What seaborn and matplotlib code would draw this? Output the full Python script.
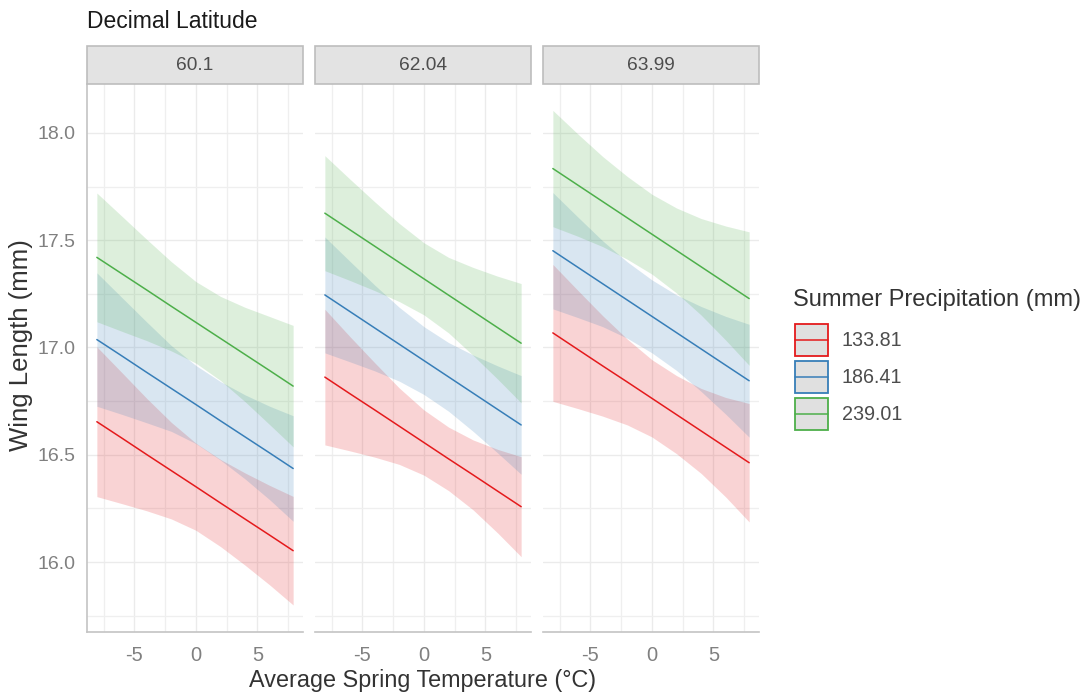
import numpy as np
import pandas as pd
import matplotlib
matplotlib.use("Agg")
import matplotlib.pyplot as plt
import seaborn as sns
from matplotlib.patches import Rectangle
from matplotlib.lines import Line2D
from matplotlib.legend_handler import HandlerBase
from matplotlib.ticker import MultipleLocator, FormatStrFormatter

# ---------------- data ----------------
latitudes = ["60.1", "62.04", "63.99"]
precip_levels = ["133.81", "186.41", "239.01"]
temperature = [-8.05, -6.0, -4.0, -2.0, 0.0, 2.0, 4.0, 6.0, 7.9]

# rows: precipitation 133.81, 186.41, 239.01
fit_60_1 = [
    [16.654, 16.577, 16.501, 16.426, 16.351, 16.275, 16.200, 16.125, 16.053],
    [17.037, 16.960, 16.884, 16.809, 16.734, 16.658, 16.583, 16.508, 16.436],
    [17.420, 17.343, 17.268, 17.192, 17.117, 17.042, 16.967, 16.892, 16.820],
]
low_60_1 = [
    [16.305, 16.272, 16.239, 16.201, 16.148, 16.072, 15.985, 15.893, 15.800],
    [16.726, 16.688, 16.649, 16.609, 16.552, 16.475, 16.387, 16.290, 16.190],
    [17.120, 17.075, 17.032, 16.984, 16.927, 16.846, 16.747, 16.640, 16.537],
]
high_60_1 = [
    [17.003, 16.882, 16.763, 16.651, 16.554, 16.478, 16.415, 16.357, 16.306],
    [17.348, 17.232, 17.119, 17.009, 16.916, 16.841, 16.779, 16.726, 16.682],
    [17.720, 17.611, 17.504, 17.400, 17.307, 17.238, 17.187, 17.144, 17.103],
]

fit_62_04 = [
    [16.862, 16.784, 16.709, 16.633, 16.557, 16.481, 16.406, 16.330, 16.258],
    [17.245, 17.167, 17.091, 17.015, 16.939, 16.863, 16.787, 16.711, 16.639],
    [17.626, 17.548, 17.472, 17.396, 17.320, 17.244, 17.168, 17.092, 17.020],
]
low_62_04 = [
    [16.546, 16.518, 16.489, 16.455, 16.405, 16.333, 16.243, 16.135, 16.025],
    [16.975, 16.933, 16.891, 16.843, 16.781, 16.703, 16.609, 16.508, 16.409],
    [17.358, 17.312, 17.265, 17.214, 17.152, 17.068, 16.963, 16.852, 16.742],
]
high_62_04 = [
    [17.178, 17.050, 16.929, 16.811, 16.709, 16.629, 16.569, 16.525, 16.491],
    [17.515, 17.401, 17.291, 17.187, 17.097, 17.023, 16.965, 16.914, 16.869],
    [17.894, 17.784, 17.679, 17.578, 17.488, 17.420, 17.373, 17.332, 17.298],
]

fit_63_99 = [
    [17.068, 16.990, 16.914, 16.839, 16.763, 16.687, 16.611, 16.535, 16.463],
    [17.451, 17.373, 17.297, 17.221, 17.145, 17.069, 16.993, 16.917, 16.845],
    [17.834, 17.756, 17.680, 17.604, 17.528, 17.452, 17.376, 17.300, 17.228],
]
low_63_99 = [
    [16.749, 16.715, 16.680, 16.639, 16.583, 16.505, 16.413, 16.303, 16.187],
    [17.180, 17.139, 17.097, 17.043, 16.975, 16.893, 16.795, 16.689, 16.582],
    [17.563, 17.518, 17.470, 17.411, 17.342, 17.254, 17.151, 17.034, 16.917],
]
high_63_99 = [
    [17.387, 17.265, 17.148, 17.039, 16.943, 16.869, 16.809, 16.767, 16.739],
    [17.722, 17.607, 17.497, 17.399, 17.315, 17.245, 17.191, 17.145, 17.108],
    [18.105, 17.994, 17.890, 17.797, 17.714, 17.650, 17.601, 17.566, 17.539],
]

y_ticks = [16.0, 16.5, 17.0, 17.5, 18.0]
x_ticks = [-5, 0, 5]

colors = ["#E41A1C", "#377EB8", "#4DAF4A"]

# --------------- long table ---------------
fits = [fit_60_1, fit_62_04, fit_63_99]
lows = [low_60_1, low_62_04, low_63_99]
highs = [high_60_1, high_62_04, high_63_99]
rows = []
for li, lat in enumerate(latitudes):
    for pi, pr in enumerate(precip_levels):
        for ti, t in enumerate(temperature):
            rows.append(dict(lat=lat, precip=pr, temp=t,
                             fit=fits[li][pi][ti], low=lows[li][pi][ti],
                             high=highs[li][pi][ti]))
df = pd.DataFrame(rows)

# --------------- figure ---------------
sns.set_theme(style="white")
plt.rcParams["font.family"] = ["Liberation Sans", "DejaVu Sans"]
plt.rcParams["axes.unicode_minus"] = False

W, H = 1085, 693
fig = plt.figure(figsize=(W / 100, H / 100), dpi=100)
fig.patch.set_facecolor("white")

pw, gap, left0 = 216, 12, 87
top_px, bot_px = 84, 632
strip_px = 38
ph = bot_px - top_px

palette = dict(zip(precip_levels, colors))
tick_col = "#808080"
for li, lat in enumerate(latitudes):
    ax = fig.add_axes([(left0 + li * (pw + gap)) / W, (H - bot_px) / H, pw / W, ph / H])
    sub = df[df["lat"] == lat]
    for pr in precip_levels:
        g = sub[sub["precip"] == pr]
        ax.fill_between(g["temp"], g["low"], g["high"], color=palette[pr],
                        alpha=0.19, linewidth=0, zorder=2)
    sns.lineplot(data=sub, x="temp", y="fit", hue="precip", hue_order=precip_levels,
                 palette=palette, legend=False, linewidth=1.1, ax=ax, zorder=3)
    ax.set_xlim(-8.85, 8.7)
    ax.set_ylim(15.674, 18.228)
    ax.set_xticks(x_ticks)
    ax.set_yticks(y_ticks)
    ax.xaxis.set_minor_locator(MultipleLocator(2.5))
    ax.yaxis.set_minor_locator(MultipleLocator(0.25))
    ax.grid(which="major", color="#EBEBEB", linewidth=1.0, zorder=0)
    ax.grid(which="minor", color="#EFEFEF", linewidth=0.9, zorder=0)
    ax.set_axisbelow(True)
    ax.set_xlabel("")
    ax.set_ylabel("")
    ax.tick_params(axis="x", which="both", length=0, labelsize=14.5,
                   labelcolor=tick_col, pad=10)
    ax.tick_params(axis="y", which="both", length=0, labelsize=14,
                   labelcolor=tick_col, pad=8.5)
    for s in ["top", "right"]:
        ax.spines[s].set_visible(False)
    ax.spines["bottom"].set_color("#C4C4C4")
    ax.spines["bottom"].set_linewidth(1.2)
    if li == 0:
        ax.spines["left"].set_color("#C4C4C4")
        ax.spines["left"].set_linewidth(1.2)
        ax.yaxis.set_major_formatter(FormatStrFormatter("%.1f"))
    else:
        ax.spines["left"].set_visible(False)
        ax.tick_params(axis="y", labelleft=False)
    # facet strip
    sh = strip_px / ph
    ax.add_patch(Rectangle((0, 1.0), 1, sh, transform=ax.transAxes, clip_on=False,
                           facecolor="#E3E3E3", edgecolor="#BDBDBD", linewidth=1.2,
                           zorder=5))
    ax.text(0.5, 1.0 + sh / 2, lat, transform=ax.transAxes, ha="center", va="center",
            fontsize=13.8, color="#4D4D4D", zorder=6)

# titles
fig.text(87 / W, 1 - 22 / H, "Decimal Latitude", ha="left", va="center",
         fontsize=16.5, color="#1A1A1A")
fig.text(21 / W, 1 - 345 / H, "Wing Length (mm)", rotation=90, ha="center",
         va="center", fontsize=18.5, color="#333333")
fig.text(423 / W, 1 - 680 / H, "Average Spring Temperature (\u00b0C)", ha="center",
         va="center", fontsize=16.8, color="#333333")


# legend: grey key box with coloured outline and a line through it
class BoxLine(HandlerBase):
    def create_artists(self, legend, orig_handle, xdescent, ydescent, width,
                       height, fontsize, trans):
        c = orig_handle.get_color()
        r = Rectangle((-xdescent, -ydescent), width, height, facecolor="#E0E0E0",
                      edgecolor=c, linewidth=1.3, transform=trans)
        ln = Line2D([-xdescent, -xdescent + width], [-ydescent + height / 2] * 2,
                    color=c, linewidth=1.1, transform=trans)
        return [r, ln]


fig.text(793 / W, 1 - 300 / H, "Summer Precipitation (mm)", ha="left", va="center",
         fontsize=17, color="#333333")
handles = [Line2D([0], [0], color=c) for c in colors]
leg = fig.legend(handles, precip_levels, loc="upper left",
                 bbox_to_anchor=(795 / W, 1 - 324 / H), frameon=False,
                 fontsize=14.2, handler_map={Line2D: BoxLine()},
                 handlelength=1.68, handleheight=2.1, labelspacing=0.26,
                 handletextpad=0.7, borderpad=0, borderaxespad=0)
for t in leg.get_texts():
    t.set_color("#4D4D4D")

fig.savefig("out.png", dpi=100, facecolor="white")
